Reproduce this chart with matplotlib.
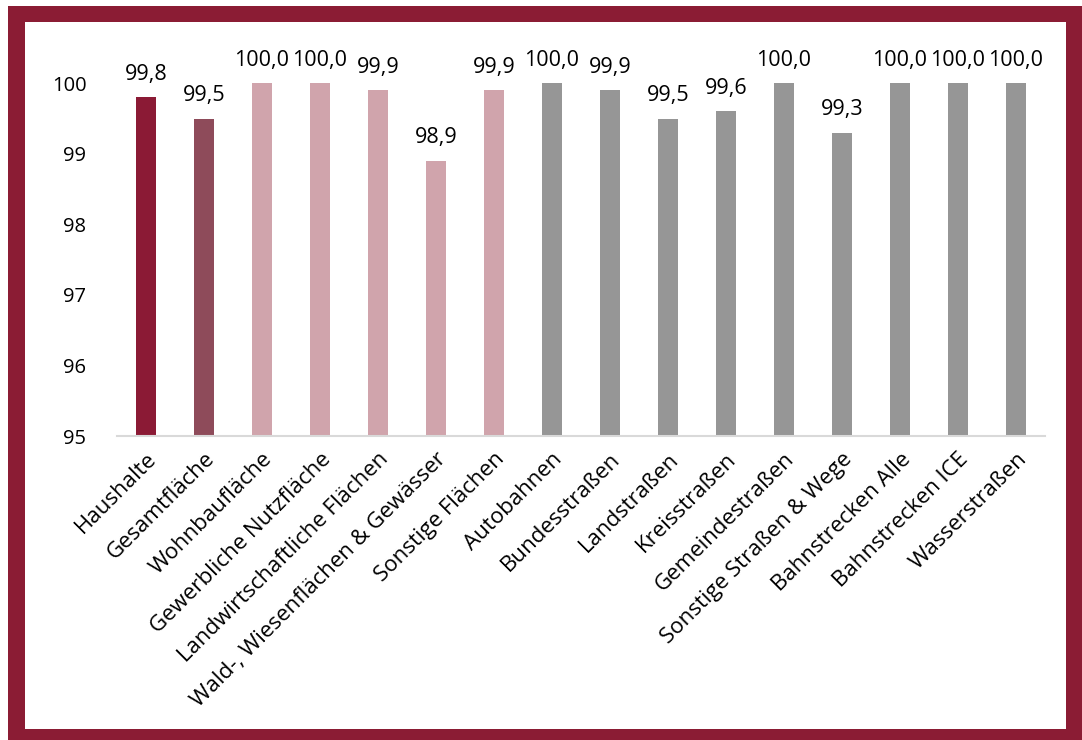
import matplotlib.pyplot as plt
from matplotlib.patches import Rectangle

plt.rcParams['font.family'] = ['Open Sans', 'DejaVu Sans']

categories = ['Haushalte', 'Gesamtfläche', 'Wohnbaufläche', 'Gewerbliche Nutzfläche',
              'Landwirtschaftliche Flächen', 'Wald-, Wiesenflächen & Gewässer',
              'Sonstige Flächen', 'Autobahnen', 'Bundesstraßen', 'Landstraßen',
              'Kreisstraßen', 'Gemeindestraßen', 'Sonstige Straßen & Wege',
              'Bahnstrecken Alle', 'Bahnstrecken ICE', 'Wasserstraßen']
values = [99.8, 99.5, 100.0, 100.0, 99.9, 98.9, 99.9, 100.0, 99.9, 99.5,
          99.6, 100.0, 99.3, 100.0, 100.0, 100.0]
colors = ['#8b1a35', '#8e4b5a'] + ['#d0a4ac'] * 5 + ['#969696'] * 9

border = '#8b1c34'

fig = plt.figure(figsize=(10.82, 7.40), dpi=100)
W, H = 1082, 740
fig.patches.append(Rectangle((8 / W, 0), 1 - 8 / W, 1 - 6 / H, transform=fig.transFigure,
                             facecolor=border, edgecolor='none', zorder=-2))
fig.patches.append(Rectangle((25 / W, 11 / H), (1066 - 25) / W, (729 - 22) / H,
                             transform=fig.transFigure, facecolor='white',
                             edgecolor='none', zorder=-1))

ax = fig.add_axes([117 / W, 1 - 436 / H, (1045 - 117) / W, (436 - 48) / H])
ax.patch.set_alpha(0)
x = range(len(categories))
ax.bar(x, values, width=0.33, color=colors)
ax.set_ylim(95, 100.5)
ax.set_xlim(-0.5, len(categories) - 0.5)
ax.set_yticks([95, 96, 97, 98, 99, 100])
ax.tick_params(axis='y', length=0, labelsize=14.5, pad=22)
ax.tick_params(axis='x', length=0, labelsize=16, pad=9)
ax.set_xticks(list(x))
ax.set_xticklabels(categories, rotation=45, ha='right', rotation_mode='anchor')
for s in ['top', 'right', 'left']:
    ax.spines[s].set_visible(False)
ax.spines['bottom'].set_color('#d9d9d9')
ax.spines['bottom'].set_linewidth(1.5)

for xi, v in zip(x, values):
    ax.text(xi, v + 0.18, f'{v:.1f}'.replace('.', ','), ha='center', va='bottom',
            fontsize=15.5, clip_on=False)

fig.savefig('out.png', dpi=100)
